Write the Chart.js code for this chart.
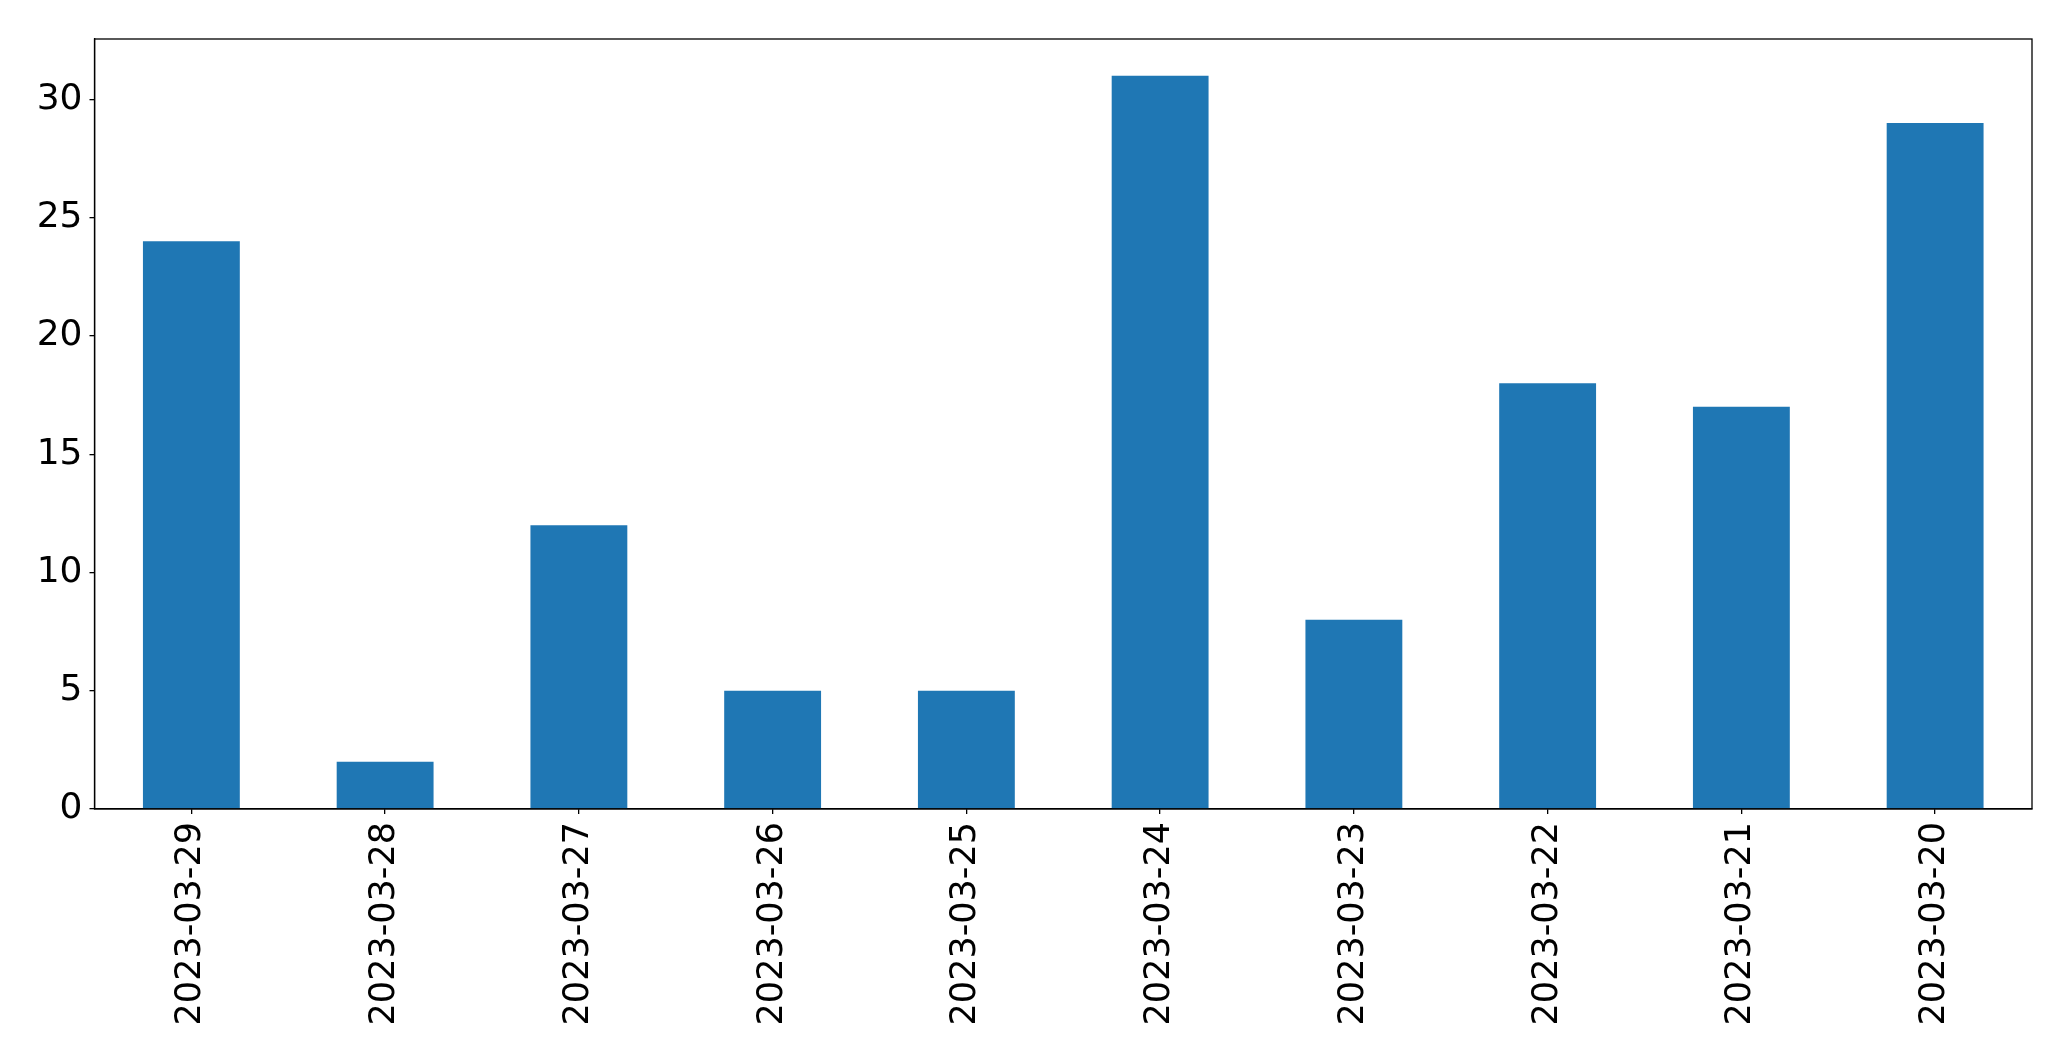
<!DOCTYPE html>
<html>
<head>
<meta charset="utf-8">
<script src="https://cdn.jsdelivr.net/npm/chart.js@4.4.0/dist/chart.umd.min.js"></script>
<style>
html,body{margin:0;padding:0;background:#fff;}
#wrap{width:2071px;height:1061px;position:relative;}
</style>
</head>
<body>
<div id="wrap"><canvas id="c" width="2071" height="1061"></canvas></div>
<script>
const categories = ['2023-03-29','2023-03-28','2023-03-27','2023-03-26','2023-03-25','2023-03-24','2023-03-23','2023-03-22','2023-03-21','2023-03-20'];
const values = [24, 2, 12, 5, 5, 31, 8, 18, 17, 29];
const yTicks = [0, 5, 10, 15, 20, 25, 30];

const frame = {
  id: 'frame',
  afterDraw(chart) {
    const {ctx, chartArea: a} = chart;
    ctx.save();
    ctx.strokeStyle = '#000';
    ctx.lineWidth = 1.3;
    ctx.strokeRect(a.left, a.top, a.right - a.left, a.bottom - a.top);
    ctx.restore();
  }
};

const font = {family: '"DejaVu Sans", sans-serif', size: 35};
const yFont = {family: '"DejaVu Sans", sans-serif', size: 36};

new Chart(document.getElementById('c'), {
  type: 'bar',
  data: {
    labels: categories,
    datasets: [{
      data: values,
      backgroundColor: '#1f77b4',
      barPercentage: 0.5,
      categoryPercentage: 1.0
    }]
  },
  options: {
    responsive: false,
    animation: false,
    layout: {padding: {left: 0, right: 39, top: 39, bottom: 0}},
    plugins: {legend: {display: false}, tooltip: {enabled: false}},
    scales: {
      x: {
        offset: true,
        grid: {display: true, offset: false, drawOnChartArea: false, drawTicks: true, tickLength: 5, color: '#000', lineWidth: 1.3},
        border: {display: true, color: '#000', width: 1.3},
        ticks: {color: '#000', font: font, maxRotation: 90, minRotation: 90, padding: 8, autoSkip: false},
        afterFit(s) { s.height = 252; }
      },
      y: {
        min: 0,
        max: 32.55,
        grid: {display: true, drawOnChartArea: false, drawTicks: true, tickLength: 5, color: '#000', lineWidth: 1.3},
        border: {display: true, color: '#000', width: 1.3},
        ticks: {color: '#000', font: yFont, stepSize: 5, padding: 7},
        afterBuildTicks(s) { s.ticks = yTicks.map(v => ({value: v})); },
        afterFit(s) { s.width = 94.5; }
      }
    }
  },
  plugins: [frame]
});
</script>
</body>
</html>
